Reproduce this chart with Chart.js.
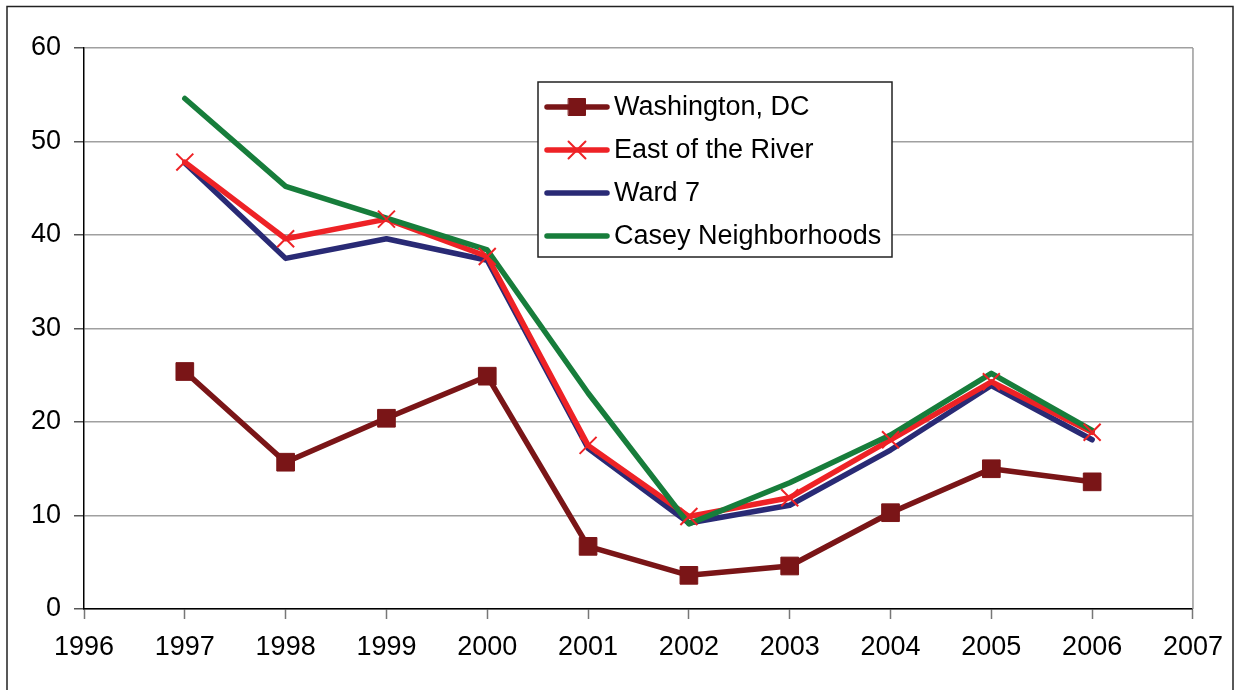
<!DOCTYPE html>
<html>
<head>
<meta charset="utf-8">
<script src="https://cdn.jsdelivr.net/npm/chart.js@4.4.1/dist/chart.umd.min.js"></script>
<style>
  html, body { margin: 0; padding: 0; background: #fff; }
  #wrap { width: 1235px; height: 690px; position: relative; }
</style>
</head>
<body>
<div id="wrap"><canvas id="lineChart" width="1235" height="690"></canvas></div>
<script>
// values
const years = [1997, 1998, 1999, 2000, 2001, 2002, 2003, 2004, 2005, 2006];
const washingtonDC = [25.4, 15.7, 20.4, 24.9, 6.7, 3.6, 4.6, 10.3, 15.0, 13.6];
const eastOfRiver = [47.8, 39.6, 41.7, 37.7, 17.5, 9.9, 11.9, 18.1, 24.3, 18.9];
const ward7 = [47.7, 37.5, 39.6, 37.3, 17.2, 9.2, 11.1, 17.0, 23.9, 18.1];
const caseyNeighborhoods = [54.6, 45.2, 41.8, 38.4, 23.1, 9.1, 13.5, 18.6, 25.2, 19.1];

const xTicks = [1996, 1997, 1998, 1999, 2000, 2001, 2002, 2003, 2004, 2005, 2006, 2007];
const yTicks = [0, 10, 20, 30, 40, 50, 60];

const seriesNames = ['Washington, DC', 'East of the River', 'Ward 7', 'Casey Neighborhoods'];
const colors = {
    dc: '#7a1517',
    east: '#ee2226',
    ward: '#292a75',
    casey: '#177d3b'
};

const toPoints = vals => vals.map((v, i) => ({ x: years[i], y: v }));
const FONT = 'Arial, "Liberation Sans", sans-serif';
const LINE_W = 5.5;

// outer frame, right edge of plot and the legend box
const framePlugin = {
    id: 'frame',
    beforeDraw(chart) {
        const ctx = chart.ctx;
        ctx.save();
        ctx.fillStyle = '#fff';
        ctx.fillRect(0, 0, chart.width, chart.height);
        ctx.restore();
    },
    afterDraw(chart) {
        const ctx = chart.ctx;
        const area = chart.chartArea;
        ctx.save();
        ctx.strokeStyle = '#9a9a9a';
        ctx.lineWidth = 1.5;
        ctx.beginPath();
        ctx.moveTo(area.right, area.top);
        ctx.lineTo(area.right, area.bottom);
        ctx.stroke();

        ctx.strokeStyle = '#222';
        ctx.lineWidth = 1.5;
        ctx.strokeRect(7, 6.5, 1226, 690);

        // legend
        const box = { x: 538, y: 82, w: 354, h: 175 };
        ctx.fillStyle = '#fff';
        ctx.fillRect(box.x, box.y, box.w, box.h);
        ctx.strokeStyle = '#222';
        ctx.lineWidth = 1.5;
        ctx.strokeRect(box.x, box.y, box.w, box.h);

        [0, 1, 2, 3].forEach((idx, row) => {
            const ds = chart.data.datasets[idx];
            const cy = 107 + row * 43;
            ctx.strokeStyle = ds.borderColor;
            ctx.lineWidth = LINE_W;
            ctx.lineCap = 'round';
            ctx.beginPath();
            ctx.moveTo(547, cy);
            ctx.lineTo(607, cy);
            ctx.stroke();
            if (idx === 0) {
                ctx.fillStyle = colors.dc;
                ctx.strokeStyle = colors.dc;
                ctx.lineWidth = 1;
                Chart.helpers.drawPoint(ctx, { pointStyle: 'rect', radius: 12, borderWidth: 1, rotation: 0 }, 577, cy);
            }
            if (idx === 1) {
                ctx.strokeStyle = colors.east;
                ctx.lineWidth = 2;
                Chart.helpers.drawPoint(ctx, { pointStyle: 'crossRot', radius: 12, borderWidth: 2, rotation: 0 }, 577, cy);
            }
            ctx.fillStyle = '#000';
            ctx.font = '27px ' + FONT;
            ctx.textBaseline = 'middle';
            ctx.textAlign = 'left';
            ctx.fillText(seriesNames[idx], 614, cy + 1);
        });
        ctx.restore();
    }
};

const canvas = document.getElementById('lineChart');
const context = canvas.getContext('2d');

const myChart = new Chart(context, {
    type: 'line',
    data: {
        datasets: [
            {
                label: seriesNames[0],
                data: toPoints(washingtonDC),
                borderColor: colors.dc,
                backgroundColor: colors.dc,
                borderWidth: LINE_W,
                pointStyle: 'rect',
                pointRadius: 12.5,
                pointBorderWidth: 1,
                pointBackgroundColor: colors.dc,
                pointBorderColor: colors.dc,
                order: 1
            },
            {
                label: seriesNames[1],
                data: toPoints(eastOfRiver),
                borderColor: colors.east,
                backgroundColor: colors.east,
                borderWidth: LINE_W,
                pointRadius: 0,
                order: 3
            },
            {
                label: seriesNames[2],
                data: toPoints(ward7),
                borderColor: colors.ward,
                backgroundColor: colors.ward,
                borderWidth: LINE_W,
                pointRadius: 0,
                order: 4
            },
            {
                label: seriesNames[3],
                data: toPoints(caseyNeighborhoods),
                borderColor: colors.casey,
                backgroundColor: colors.casey,
                borderWidth: LINE_W,
                pointRadius: 0,
                order: 2
            },
            {
                // cross markers of East of the River, kept above the other lines
                label: seriesNames[1] + ' markers',
                data: toPoints(eastOfRiver),
                showLine: false,
                pointStyle: 'crossRot',
                pointRadius: 12,
                pointBorderWidth: 2,
                pointBorderColor: colors.east,
                pointBackgroundColor: colors.east,
                order: 0
            }
        ]
    },
    options: {
        responsive: false,
        animation: false,
        devicePixelRatio: 1,
        layout: { padding: { left: 0, top: 48, right: 40, bottom: 0 } },
        elements: { line: { tension: 0, borderJoinStyle: 'round', borderCapStyle: 'round' } },
        scales: {
            x: {
                type: 'linear',
                min: 1996,
                max: 2007,
                afterBuildTicks: scale => { scale.ticks = xTicks.map(v => ({ value: v })); },
                afterFit: scale => { scale.height = 81; },
                ticks: {
                    autoSkip: false,
                    maxRotation: 0,
                    padding: 12,
                    color: '#000',
                    font: { family: FONT, size: 27 },
                    callback: v => String(v)
                },
                grid: {
                    drawOnChartArea: false,
                    drawTicks: true,
                    tickLength: 10,
                    tickColor: '#777',
                    tickWidth: 1.5
                },
                border: { color: '#000', width: 1.5 }
            },
            y: {
                min: 0,
                max: 60,
                afterBuildTicks: scale => { scale.ticks = yTicks.map(v => ({ value: v })); },
                afterFit: scale => { scale.width = 84; },
                ticks: {
                    padding: 13,
                    color: '#000',
                    font: { family: FONT, size: 27 },
                    callback: v => String(v)
                },
                grid: {
                    color: '#a0a0a0',
                    lineWidth: 1.5,
                    drawTicks: true,
                    tickLength: 10,
                    tickColor: '#555',
                    tickWidth: 1.5
                },
                border: { color: '#000', width: 1.5 }
            }
        },
        plugins: {
            legend: { display: false },
            tooltip: { enabled: false }
        }
    },
    plugins: [framePlugin]
});
</script>
</body>
</html>
